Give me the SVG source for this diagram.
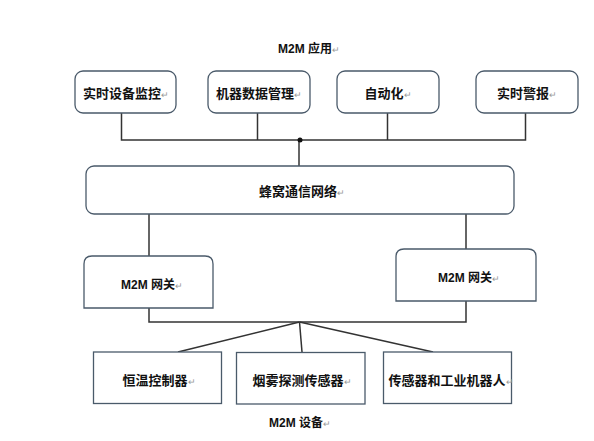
<svg xmlns="http://www.w3.org/2000/svg" width="594" height="441" viewBox="0 0 594 441">
<style>
.box{fill:#fff;stroke:#4a5a6a;stroke-width:1.3}
.ln{fill:none;stroke:#333;stroke-width:1.5}
.t{font-family:"Noto Sans CJK SC","Liberation Sans",sans-serif;font-size:13px;font-weight:bold;fill:#111;text-anchor:middle}
.m{font-family:"Liberation Sans","Noto Sans CJK SC",sans-serif;font-size:12px;font-weight:bold;fill:#111;text-anchor:middle}
.p{fill:#999;font-weight:normal;font-size:9px}
</style>
<rect width="594" height="441" fill="#fff"/>
<g id="connectors">
<polyline class="ln" points="121.5,113 121.5,140 525.5,140 525.5,113"/>
<line class="ln" x1="257.5" y1="113" x2="257.5" y2="140"/>
<line class="ln" x1="387.5" y1="113" x2="387.5" y2="140"/>
<line class="ln" x1="299" y1="140" x2="299" y2="166"/>
<circle cx="300" cy="140" r="2.5" fill="#111"/>
<line class="ln" x1="149" y1="214" x2="149" y2="256"/>
<line class="ln" x1="466" y1="214" x2="466" y2="249"/>
<polyline class="ln" points="149,308 149,322 466,322 466,301"/>
<line class="ln" x1="299.5" y1="322" x2="178" y2="352"/>
<line class="ln" x1="299.5" y1="322" x2="302" y2="352"/>
<line class="ln" x1="299.5" y1="322" x2="433" y2="352"/>
</g>
<g id="title-app"><text class="m" x="309" y="53">M2M 应用<tspan class="p">↵</tspan></text></g>
<g id="n1"><rect class="box" x="75" y="71" width="101" height="42" rx="8"/><text class="t" x="126" y="98">实时设备监控<tspan class="p">↵</tspan></text></g>
<g id="n2"><rect class="box" x="208" y="71" width="102" height="42" rx="8"/><text class="t" x="259" y="98">机器数据管理<tspan class="p">↵</tspan></text></g>
<g id="n3"><rect class="box" x="337" y="71" width="102" height="42" rx="8"/><text class="t" x="388" y="98">自动化<tspan class="p">↵</tspan></text></g>
<g id="n4"><rect class="box" x="476" y="71" width="102" height="42" rx="8"/><text class="t" x="527" y="98">实时警报<tspan class="p">↵</tspan></text></g>
<g id="cell"><rect class="box" x="86" y="166" width="428" height="48" rx="8"/><text class="t" x="302" y="196">蜂窝通信网络<tspan class="p">↵</tspan></text></g>
<g id="gw1"><path class="box" d="M84,308 L84,264 Q84,256 92,256 L205,256 Q213,256 213,264 L213,308 Z"/><text class="m" x="152" y="289">M2M 网关<tspan class="p">↵</tspan></text></g>
<g id="gw2"><path class="box" d="M396,301 L396,257 Q396,249 404,249 L528,249 Q536,249 536,257 L536,301 Z"/><text class="m" x="469" y="282">M2M 网关<tspan class="p">↵</tspan></text></g>
<g id="d1"><rect class="box" x="93.5" y="352" width="128" height="51.5"/><text class="t" x="159" y="385">恒温控制器<tspan class="p">↵</tspan></text></g>
<g id="d2"><rect class="box" x="236.5" y="352.5" width="128.5" height="51.5"/><text class="t" x="302" y="385">烟雾探测传感器<tspan class="p">↵</tspan></text></g>
<g id="d3"><rect class="box" x="383.5" y="352" width="128" height="51.5"/><text class="t" x="451" y="385">传感器和工业机器人<tspan class="p">↵</tspan></text></g>
<g id="title-dev"><text class="m" x="300" y="427">M2M 设备<tspan class="p">↵</tspan></text></g>
</svg>
